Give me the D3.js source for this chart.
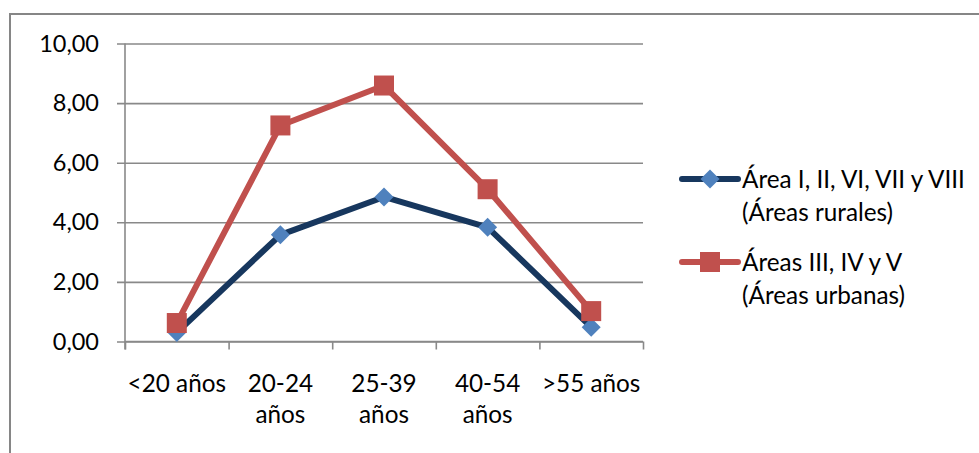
<!DOCTYPE html>
<html>
<head>
<meta charset="utf-8">
<script src="https://cdn.jsdelivr.net/npm/d3@7/dist/d3.min.js"></script>
<style>
  html, body { margin: 0; padding: 0; background: #fff; }
  svg { display: block; font-family: Lato, "Noto Sans", sans-serif; }
</style>
</head>
<body>
<svg id="chart" width="979" height="453"></svg>
<script>
const categories = [["<20 años"], ["20-24", "años"], ["25-39", "años"], ["40-54", "años"], [">55 años"]];
const seriesNames = [["Área I, II, VI, VII y VIII", "(Áreas rurales)"], ["Áreas III, IV y V", "(Áreas urbanas)"]];
const rural = [0.30, 3.58, 4.85, 3.83, 0.48];
const urban = [0.62, 7.25, 8.59, 5.11, 1.02];
const yTicks = [0, 2, 4, 6, 8, 10];

(function () {
const svg = d3.select("#chart");
const pLeft = 125, pRight = 643, pTop = 43.5, pBottom = 341.5;
const fontSize = 24.3;
const gridColor = "#898989";

// outer chart border
svg.append("rect").attr("x", 10).attr("y", 14).attr("width", 1000).attr("height", 500)
  .attr("fill", "#fff").attr("stroke", "#868686").attr("stroke-width", 2);

const x = d3.scalePoint().domain(d3.range(categories.length)).range([pLeft, pRight]).padding(0.5);
const xEdges = d3.scaleLinear().domain([0, categories.length]).range([pLeft, pRight]);
const y = d3.scaleLinear().domain([0, 10]).range([pBottom, pTop]);

// gridlines + y axis
const yAxis = d3.axisLeft(y).tickValues(yTicks).tickSize(-(pRight - pLeft)).tickPadding(0)
  .tickFormat(d => d3.format(".2f")(d).replace(".", ","));
const gy = svg.append("g").attr("transform", `translate(${pLeft},0)`).call(yAxis);
gy.select(".domain").remove();
gy.selectAll(".tick line").attr("stroke", gridColor).attr("stroke-width", 1.6).attr("x1", -8);
gy.selectAll(".tick text").attr("x", -26).attr("font-size", 23.5).attr("fill", "#000")
  .attr("font-family", "Lato, 'Noto Sans', sans-serif");

// vertical axis line
svg.append("line").attr("x1", pLeft).attr("x2", pLeft).attr("y1", pTop).attr("y2", pBottom + 8)
  .attr("stroke", gridColor).attr("stroke-width", 1.6);

// x axis tick marks at category boundaries
const xAxis = d3.axisBottom(xEdges).tickValues(d3.range(categories.length + 1)).tickSize(8).tickFormat("");
const gx = svg.append("g").attr("transform", `translate(0,${pBottom})`).call(xAxis);
gx.select(".domain").attr("stroke", gridColor).attr("stroke-width", 1.6).attr("d", `M${pLeft},0H${pRight}`);
gx.selectAll(".tick line").attr("stroke", gridColor).attr("stroke-width", 1.6);

// category labels
categories.forEach((lines, i) => {
  const t = svg.append("text").attr("text-anchor", "middle").attr("font-size", fontSize).attr("fill", "#000");
  lines.forEach((ln, j) => {
    t.append("tspan").attr("x", x(i)).attr("y", 392 + j * 31).text(ln);
  });
});

const line = d3.line().x((d, i) => x(i)).y(d => y(d));
const series = [
  { data: rural, stroke: "#17375E", fill: "#4F81BD", shape: "diamond" },
  { data: urban, stroke: "#C0504D", fill: "#C0504D", shape: "square" }
];

function drawMarker(g, shape, cx, cy, color) {
  if (shape === "diamond") {
    g.append("path").attr("d", `M${cx},${cy - 9.5}L${cx + 9.5},${cy}L${cx},${cy + 9.5}L${cx - 9.5},${cy}Z`).attr("fill", color);
  } else {
    g.append("rect").attr("x", cx - 10).attr("y", cy - 10).attr("width", 20).attr("height", 20).attr("fill", color);
  }
}

series.forEach(s => {
  svg.append("path").datum(s.data).attr("d", line).attr("fill", "none")
    .attr("stroke", s.stroke).attr("stroke-width", 6).attr("stroke-linejoin", "round");
  const g = svg.append("g");
  s.data.forEach((v, i) => drawMarker(g, s.shape, x(i), y(v), s.fill));
});

// legend
const legendY = [179, 262];
series.forEach((s, k) => {
  const ly = legendY[k];
  svg.append("line").attr("x1", 682).attr("x2", 738).attr("y1", ly).attr("y2", ly)
    .attr("stroke", s.stroke).attr("stroke-width", 6).attr("stroke-linecap", "round");
  const g = svg.append("g");
  drawMarker(g, s.shape, 710, ly, s.fill);
  const t = svg.append("text").attr("font-size", fontSize).attr("fill", "#000");
  seriesNames[k].forEach((ln, j) => {
    t.append("tspan").attr("x", 742).attr("y", ly + 9 + j * 33).text(ln);
  });
});
})();
</script>
</body>
</html>
